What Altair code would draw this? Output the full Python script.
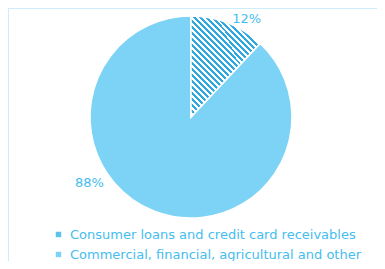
import altair as alt
import pandas as pd

categories = ["Consumer loans and credit card receivables",
              "Commercial, financial, agricultural and other"]
values = [12, 88]
labels = ["12%", "88%"]
order = [1, 2]

df = pd.DataFrame({"category": categories, "value": values, "label": labels, "order": order})

BLUE = "#7DD3F5"
STRIPE = "#2FA8E2"
TEXT = "#45BDF0"
BORDER = "#C9ECFB"

n = 25
stops = []
for i in range(n):
    a = i / n
    b = (i + 0.5) / n
    c = (i + 1) / n
    stops += [{"offset": a, "color": STRIPE}, {"offset": b, "color": STRIPE},
              {"offset": b, "color": "#FFFFFF"}, {"offset": c, "color": "#FFFFFF"}]
hatch = {"gradient": "linear", "x1": 0, "y1": 1, "x2": 0.69, "y2": 0, "stops": stops}

W, H = 369, 253
CX, CY, R = 183, 109, 101

base = alt.Chart(df)
theta = alt.Theta("value:Q", stack=True, scale=alt.Scale(domain=[0, 100]))

arcs = base.mark_arc(outerRadius=R, stroke="white", strokeWidth=1.5).encode(
    theta=theta,
    order=alt.Order("order:Q"),
    color=alt.Color("category:N",
                    scale=alt.Scale(domain=categories, range=["#5CC2EE", BLUE]),
                    legend=alt.Legend(title=None, orient="none", legendX=44, legendY=220,
                                      direction="vertical", symbolType="square",
                                      symbolSize=30, symbolStrokeWidth=0,
                                      labelFont="DejaVu Sans", labelFontSize=13,
                                      labelColor=TEXT, rowPadding=6, labelLimit=400,
                                      labelOffset=5)),
    x=alt.value(CX), y=alt.value(CY),
)

hatched = base.mark_arc(outerRadius=R, stroke="white", strokeWidth=1.5).encode(
    theta=theta,
    order=alt.Order("order:Q"),
    fill=alt.value(hatch),
    opacity=alt.condition(alt.datum.order == 1, alt.value(1), alt.value(0)),
    x=alt.value(CX), y=alt.value(CY),
)

stacked = base.transform_window(
    cum="sum(value)", sort=[alt.SortField("order")], frame=[None, 0]
).transform_calculate(mid="datum.cum - datum.value / 2")

def label_layer(o, dx, dy):
    return stacked.transform_filter(alt.datum.order == o).mark_text(
        font="DejaVu Sans", fontSize=13, color=TEXT, dx=dx, dy=dy
    ).encode(
        theta=alt.Theta("mid:Q", stack=None, scale=alt.Scale(domain=[0, 100])),
        radius=alt.value(113),
        text="label:N",
        x=alt.value(CX), y=alt.value(CY),
    )

top_border = base.mark_rule(color=BORDER, strokeWidth=1.5).encode(
    x=alt.value(0), x2=alt.value(W), y=alt.value(0))
left_border = base.mark_rule(color=BORDER, strokeWidth=1.5).encode(
    x=alt.value(0), y=alt.value(0), y2=alt.value(H))

chart = alt.layer(top_border, left_border, arcs, hatched,
                  label_layer(1, 14, 7), label_layer(2, -60, -39)).properties(
    width=W, height=H, padding=0, autosize=alt.AutoSizeParams(type="none")
).configure_view(stroke=None)

chart.save("out.html", embed_options={"renderer": "svg", "actions": False})
